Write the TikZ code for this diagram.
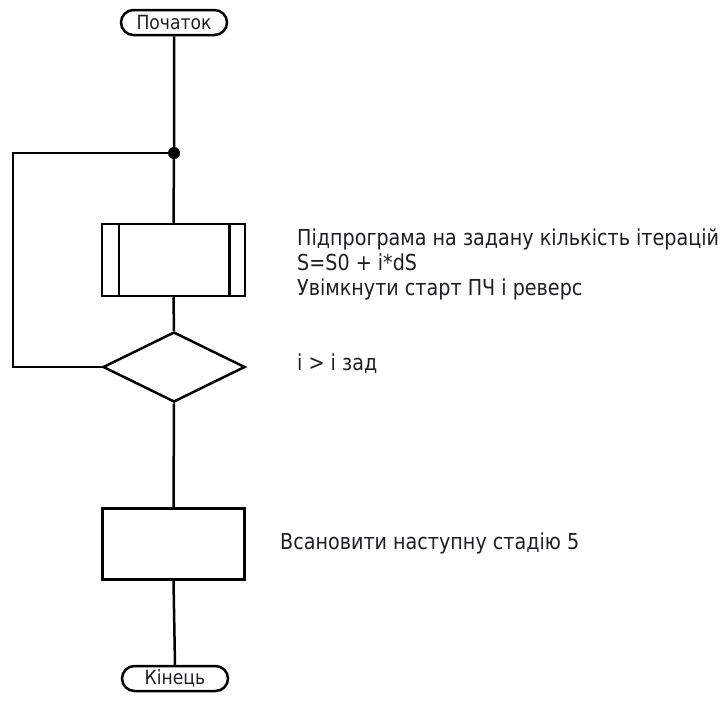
\documentclass[tikz,border=0pt]{standalone}
\usepackage{fontspec}
\setmainfont{DejaVu Sans}[FakeStretch=0.87]
\newfontfamily\termfont{DejaVu Sans}[FakeStretch=0.88]
\usetikzlibrary{shapes.geometric}
\definecolor{ink}{HTML}{1E1E24}
\begin{document}
\begin{tikzpicture}[x=1pt,y=-1pt,
  flow/.style={draw=black,line width=2.5pt},
  terminal/.style={flow,rounded corners=12.5pt,minimum width=106pt,minimum height=25pt,inner sep=0pt,font=\termfont\fontsize{19.5}{21}\selectfont,text=ink},
  procbox/.style={flow,minimum width=142pt,minimum height=71pt,inner sep=0pt},
  decision/.style={flow,diamond,aspect=2.03,minimum width=142pt,minimum height=70pt,inner sep=0pt},
  note/.style={anchor=west,inner sep=0pt,align=left,text=ink,font=\fontsize{22}{25}\selectfont},
  wire/.style={draw=black,line width=2.5pt}]
\useasboundingbox (0,0) rectangle (727,707);

% blocks
\node[terminal] (start) at (174,22.5) {Початок};
\coordinate (join) at (174,153);
\node[procbox,minimum width=143pt,minimum height=72pt] (sub) at (173.5,260) {};
\draw[line width=2.5pt] ([xshift=18pt]sub.north west) -- ([xshift=18pt]sub.south west)
                        ([xshift=-17pt]sub.north east) -- ([xshift=-17pt]sub.south east);
\node[decision] (cond) at (174,367) {};
\node[procbox] (stage) at (173.5,544) {};
\node[terminal] (finish) at (175,678.5) {Кінець};

% connectors
\draw[wire] (start.south) -- (join) -- (sub.north);
\draw[wire] (sub.south) -- (cond.north);
\draw[wire] (cond.south) -- (stage.north);
\draw[wire] (stage.south) -- (finish.north);
\draw[wire] (cond.west) -- (13,367) -- (13,153) -- (join);
\fill (join) circle (6pt);

% annotations
\node[note] (subtext) at (297,264) {Підпрограма на задану кількість ітерацій\\S=S0 + i*dS\\Увімкнути старт ПЧ і реверс};
\node[note] (condtext) at (297,364) {і > і зад};
\node[note] (stagetext) at (280,543) {Всановити наступну стадію 5};
\end{tikzpicture}
\end{document}
